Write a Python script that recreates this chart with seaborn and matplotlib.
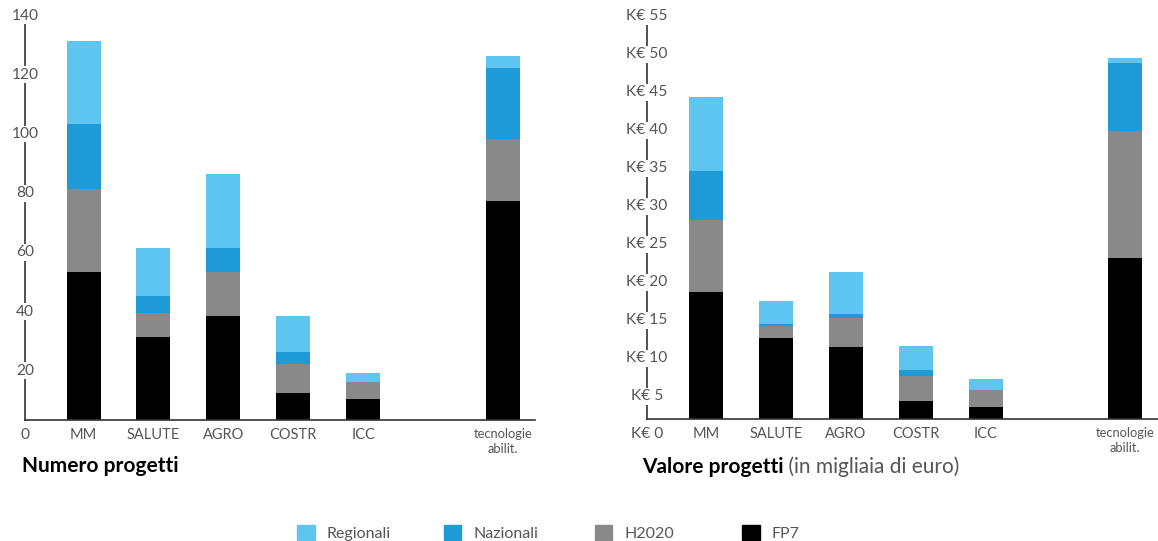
import matplotlib
matplotlib.use("Agg")
import matplotlib.pyplot as plt
import matplotlib.transforms as mtransforms
from matplotlib.patches import Patch
import seaborn as sns
import pandas as pd
import numpy as np

# categorie e ordine sull'asse (lo spazio vuoto separa "tecnologie abilit.")
categorie = ["MM", "SALUTE", "AGRO", "COSTR", "ICC", "tecnologie\nabilit."]
ordine = ["MM", "SALUTE", "AGRO", "COSTR", "ICC", " ", "tecnologie\nabilit."]
serie = ["FP7", "H2020", "Nazionali", "Regionali"]

# Numero progetti
numero_fp7 = [50, 28, 35, 9, 7, 74]
numero_h2020 = [28, 8, 15, 10, 6, 21]
numero_nazionali = [22, 6, 8, 4, 0, 24]
numero_regionali = [28, 16, 25, 12, 3, 4]

# Valore progetti (K€)
valore_fp7 = [16.8, 10.7, 9.5, 2.4, 1.6, 21.2]
valore_h2020 = [9.4, 1.6, 3.8, 3.3, 2.3, 16.7]
valore_nazionali = [6.5, 0.2, 0.6, 0.8, 0.0, 9.0]
valore_regionali = [9.7, 3.1, 5.5, 3.1, 1.4, 0.7]

numero_ticks = [0, 20, 40, 60, 80, 100, 120, 140]
valore_ticks = [0, 5, 10, 15, 20, 25, 30, 35, 40, 45, 50, 55]

colori = {"Regionali": "#5EC4F0", "Nazionali": "#1E9AD6",
          "H2020": "#898989", "FP7": "#000000"}
grigio_testo = "#555555"

W, H = 1158, 541

sns.set_theme(style="white")
plt.rcParams['font.family'] = ['Lato', 'DejaVu Sans']

fig = plt.figure(figsize=(W / 100, H / 100), dpi=100)
ax1 = fig.add_axes([25 / W, 1 - 420 / H, 510 / W, 410 / H])
ax2 = fig.add_axes([646.7 / W, 1 - 419.3 / H, 511.3 / W, 409.3 / H])


def disegna(ax, valori, ymax, xlim, yticks, fmt, off_px):
    df = pd.DataFrame(valori, index=categorie)[serie]
    cum = df.cumsum(axis=1)
    # barre impilate: si disegna prima il totale, poi gli strati sotto
    for s in reversed(serie):
        sns.barplot(x=list(cum.index), y=cum[s].values, order=ordine,
                    color=colori[s], saturation=1, width=0.486,
                    errorbar=None, linewidth=0, ax=ax)
    ax.set_xlim(*xlim)
    ax.set_ylim(0, ymax)
    sns.despine(ax=ax)
    for sp in ["left", "bottom"]:
        ax.spines[sp].set_color("#333333")
        ax.spines[sp].set_linewidth(1.2)
    ax.set_xlabel("")
    ax.set_ylabel("")
    ax.set_yticks([])
    ax.set_xticks(range(len(ordine)))
    ax.set_xticklabels(ordine)
    ax.tick_params(axis="x", length=0, pad=5.5, labelsize=10.5, colors=grigio_testo)
    for lab in ax.get_xticklabels():
        if lab.get_text().startswith("tecnologie"):
            lab.set_fontsize(9.3)
            lab.set_linespacing(1.3)
    for v in yticks:
        off = 15 if v == 0 else off_px
        tr = (mtransforms.blended_transform_factory(ax.transAxes, ax.transData)
              + mtransforms.ScaledTranslation(0, -off / 100, fig.dpi_scale_trans))
        ax.text(0, v, fmt(v), transform=tr, ha="center", va="center",
                fontsize=11.2, color=grigio_testo, clip_on=False, zorder=5,
                bbox=dict(fc="white", ec="none", pad=1))


disegna(ax1,
        {"FP7": numero_fp7, "H2020": numero_h2020,
         "Nazionali": numero_nazionali, "Regionali": numero_regionali},
        138.5, (-0.838, 6.458), numero_ticks, lambda v: f"{v}", 10)

disegna(ax2,
        {"FP7": valore_fp7, "H2020": valore_h2020,
         "Nazionali": valore_nazionali, "Regionali": valore_regionali},
        53.86, (-0.85, 6.468), valore_ticks, lambda v: f"K€ {v}", 15)

# titoli
fig.text(21.7 / W, 1 - 472 / H, "Numero progetti", fontsize=15,
         fontweight="bold", color="black", va="baseline")
t2 = fig.text(641.7 / W, 1 - 472.7 / H, "Valore progetti", fontsize=15,
              fontweight="bold", color="black", va="baseline")
ax2.annotate(" (in migliaia di euro)", xy=(1, 0), xycoords=t2, va="bottom",
             ha="left", fontsize=15, color=grigio_testo, annotation_clip=False)

# legenda
voci = ["Regionali", "Nazionali", "H2020", "FP7"]
voci_x = [297.3, 444, 595, 742.3]
for nome, x in zip(voci, voci_x):
    fig.legend(handles=[Patch(color=colori[nome])], labels=[nome],
               loc="center left", bbox_to_anchor=(x / W, 1 - 533 / H),
               frameon=False, fontsize=11.5, handlelength=1.09,
               handleheight=1.09, handletextpad=0.75, borderpad=0,
               borderaxespad=0, labelcolor=grigio_testo)

fig.savefig("out.png", dpi=100)
